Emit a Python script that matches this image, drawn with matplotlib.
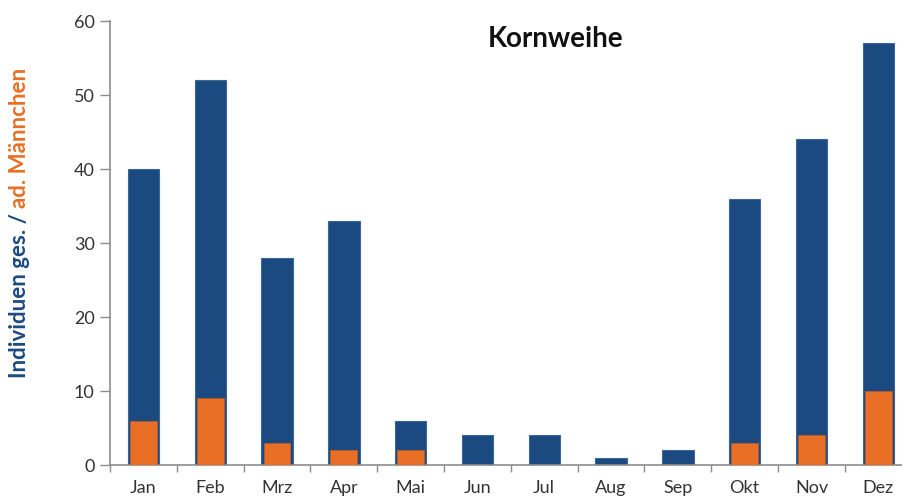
import numpy as np
import matplotlib
matplotlib.use("Agg")
import matplotlib.pyplot as plt

# Kornweihe - monthly counts
months = ["Jan", "Feb", "Mrz", "Apr", "Mai", "Jun", "Jul", "Aug", "Sep", "Okt", "Nov", "Dez"]
total = [40, 52, 28, 33, 6, 4, 4, 1, 2, 36, 44, 57]
males = [6, 9, 3, 2, 2, 0, 0, 0, 0, 3, 4, 10]

blue = "#1A4A80"
orange = "#E86F25"
grey = "#8C8C8C"

plt.rcParams["font.family"] = ["Lato", "DejaVu Sans"]

fig = plt.figure(figsize=(9.03, 4.99), dpi=100)
ax = fig.add_axes([110/903, 34/499, (903-110)/903, (465-21)/499])

x = np.arange(len(months))
ax.bar(x, total, width=0.47, color=blue, edgecolor="#3D6796", linewidth=0.8, zorder=2)
m = np.array(males)
ax.bar(x[m > 0], m[m > 0], width=0.40, color=orange, edgecolor="#C75A1C", linewidth=0.5, zorder=3)

ax.set_ylim(0, 60)
ax.set_xlim(-0.5, 11.37)
ax.set_yticks(range(0, 61, 10))

ax.set_xticks(x)
ax.set_xticklabels(months)
ax.set_xticks(np.arange(-0.5, 11.0, 1.0), minor=True)
ax.tick_params(axis="x", which="major", length=0, pad=11, labelsize=13, labelcolor="#333333")
ax.tick_params(axis="x", which="minor", length=5, width=1, color=grey, direction="out")
ax.tick_params(axis="y", length=7, width=1, color=grey, pad=4, labelsize=13, labelcolor="#333333")

for s in ["top", "right"]:
    ax.spines[s].set_visible(False)
ax.spines["left"].set_color(grey)
ax.spines["bottom"].set_color(grey)
ax.spines["left"].set_linewidth(1.2)
ax.spines["bottom"].set_linewidth(1.2)

ax.text(0.562, 0.96, "Kornweihe", transform=ax.transAxes, ha="center", va="center",
        fontsize=20, fontweight="bold", color="#111111")

# two-coloured y label
t1 = fig.text(20/903, 1 - 378/499, "Individuen ges. / ", rotation=90, color=blue,
              fontsize=16, fontweight="bold", ha="center", va="bottom")
fig.canvas.draw()
bb = t1.get_window_extent(renderer=fig.canvas.get_renderer())
fig.text(20/903, bb.y1/fig.bbox.height, "ad. Männchen", rotation=90, color=orange,
         fontsize=16, fontweight="bold", ha="center", va="bottom")

fig.savefig("out.png", dpi=100)
